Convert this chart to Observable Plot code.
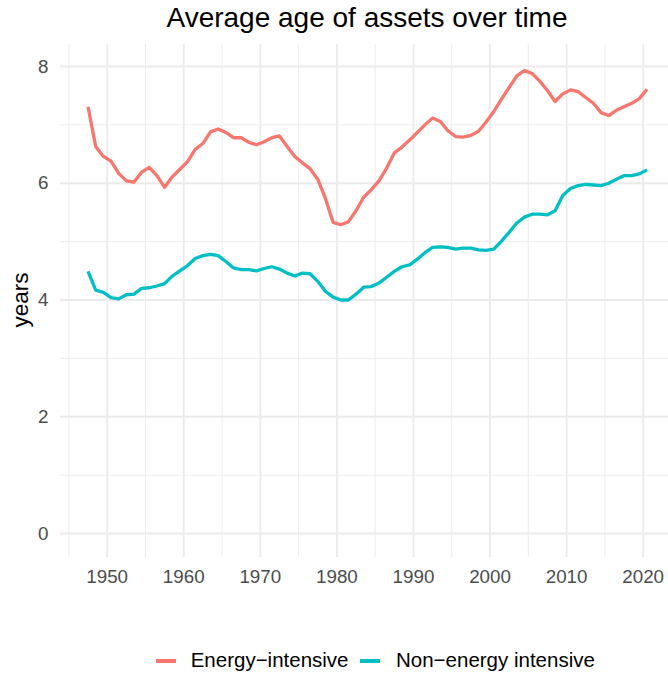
<!DOCTYPE html>
<html>
<head>
<meta charset="utf-8">
<script src="https://cdn.jsdelivr.net/npm/d3@7"></script>
<script src="https://cdn.jsdelivr.net/npm/@observablehq/plot@0.6"></script>
<style>
  html, body { margin: 0; padding: 0; background: #fff; }
  #wrap { position: relative; width: 668px; height: 679px; font-family: "Liberation Sans", Arial, Helvetica, sans-serif; }
  #title { position: absolute; left: 0; width: 734px; top: 4px; text-align: center; font-size: 28px; line-height: 1; color: #000; white-space: nowrap; }
  #ylab { position: absolute; left: 20.5px; top: 300px; font-size: 22.5px; line-height: 1; color: #000; transform: translate(-50%, -50%) rotate(-90deg); white-space: nowrap; }
  #legend { position: absolute; left: 0; top: 650px; width: 668px; height: 24px; }
  .sw { position: absolute; height: 4px; width: 20px; top: 9px; }
  .lt { position: absolute; top: 0; font-size: 20.5px; line-height: 1; color: #000; white-space: nowrap; }
</style>
</head>
<body>
<div id="wrap">
  <div id="chart"></div>
  <div id="title">Average age of assets over time</div>
  <div id="ylab">years</div>
  <div id="legend"></div>
</div>
<script>
// Years (annual observations, plotted at mid-year)
const years = d3.range(1947, 2021);

const energyIntensive = [
  7.31, 6.63, 6.46, 6.38, 6.17, 6.04, 6.02, 6.19, 6.27, 6.13,
  5.93, 6.11, 6.24, 6.37, 6.58, 6.68, 6.88, 6.93, 6.87, 6.78,
  6.78, 6.70, 6.66, 6.71, 6.78, 6.81, 6.63, 6.46, 6.35, 6.25,
  6.07, 5.74, 5.33, 5.29, 5.34, 5.53, 5.76, 5.89, 6.04, 6.26,
  6.52, 6.62, 6.74, 6.87, 7.00, 7.12, 7.06, 6.90, 6.80, 6.79,
  6.82, 6.89, 7.05, 7.23, 7.44, 7.64, 7.84, 7.93, 7.88, 7.75,
  7.59, 7.40, 7.53, 7.60, 7.57, 7.47, 7.37, 7.21, 7.16, 7.25,
  7.31, 7.37, 7.45, 7.61
];

const nonEnergyIntensive = [
  4.49, 4.17, 4.13, 4.04, 4.02, 4.09, 4.10, 4.20, 4.21, 4.24,
  4.28, 4.41, 4.50, 4.59, 4.71, 4.76, 4.78, 4.76, 4.66, 4.55,
  4.52, 4.52, 4.50, 4.54, 4.57, 4.53, 4.46, 4.41, 4.46, 4.45,
  4.32, 4.15, 4.05, 4.00, 4.00, 4.10, 4.22, 4.23, 4.29, 4.39,
  4.49, 4.57, 4.60, 4.70, 4.81, 4.90, 4.91, 4.90, 4.87, 4.89,
  4.89, 4.86, 4.85, 4.87, 5.01, 5.16, 5.32, 5.42, 5.47, 5.47,
  5.46, 5.53, 5.79, 5.91, 5.96, 5.98, 5.97, 5.96, 6.00, 6.07,
  6.13, 6.13, 6.16, 6.23
];

const seriesNames = ["Energy\u2212intensive", "Non\u2212energy intensive"];
const seriesColors = ["#F8766D", "#00BFC4"];

const xMajorTicks = [1950, 1960, 1970, 1980, 1990, 2000, 2010, 2020];
const xMinorTicks = [1945, 1955, 1965, 1975, 1985, 1995, 2005, 2015];
const yMajorTicks = [0, 2, 4, 6, 8];
const yMinorTicks = [1, 3, 5, 7];

const data = [];
years.forEach((yr, i) => {
  data.push({year: yr, value: energyIntensive[i], series: seriesNames[0]});
  data.push({year: yr, value: nonEnergyIntensive[i], series: seriesNames[1]});
});

const grid = "#EBEBEB";

const chart = Plot.plot({
  width: 668,
  height: 679,
  marginTop: 44,
  marginBottom: 122,
  marginLeft: 60,
  marginRight: 0,
  style: {fontFamily: '"Liberation Sans", Arial, Helvetica, sans-serif', fontSize: "18.8px", background: "#fff"},
  x: {domain: [1943.905, 2023.31], label: null},
  y: {domain: [-0.411, 8.377], label: null},
  color: {domain: seriesNames, range: seriesColors},
  marks: [
    Plot.ruleX(xMinorTicks, {stroke: grid, strokeWidth: 0.9}),
    Plot.ruleY(yMinorTicks, {stroke: grid, strokeWidth: 0.9}),
    Plot.ruleX(xMajorTicks, {stroke: grid, strokeWidth: 1.8}),
    Plot.ruleY(yMajorTicks, {stroke: grid, strokeWidth: 1.8}),
    Plot.axisX({ticks: xMajorTicks, tickSize: 0, tickPadding: 12, tickFormat: d => String(d), color: "#4D4D4D", label: null, fontSize: 18.8}),
    Plot.axisY({ticks: yMajorTicks, tickSize: 0, tickPadding: 12, color: "#4D4D4D", label: null, fontSize: 18.8}),
    Plot.line(data, {x: d => d.year + 0.5, y: "value", stroke: "series", strokeWidth: 3.3, strokeLinejoin: "round", strokeLinecap: "butt"})
  ]
});
document.getElementById("chart").appendChild(chart);

// Legend (HTML, below the panel)
const legend = document.getElementById("legend");
const swX = [155.7, 360];
const txX = [190.7, 396];
seriesNames.forEach((name, i) => {
  const sw = document.createElement("div");
  sw.className = "sw";
  sw.style.left = swX[i] + "px";
  sw.style.background = seriesColors[i];
  legend.appendChild(sw);
  const t = document.createElement("div");
  t.className = "lt";
  t.style.left = txX[i] + "px";
  t.textContent = name;
  legend.appendChild(t);
});
</script>
</body>
</html>
